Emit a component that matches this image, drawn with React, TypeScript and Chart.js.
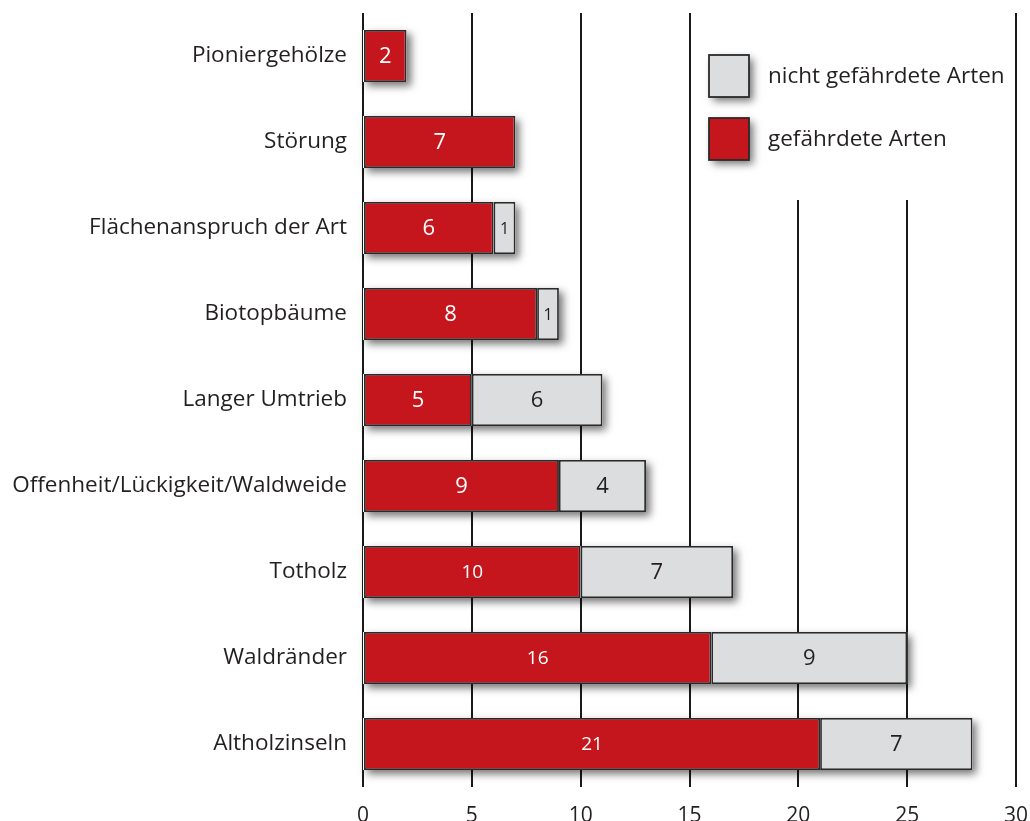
import React, { useEffect, useRef } from "react";
import { Chart, registerables } from "chart.js";

Chart.register(...registerables);

const categories = [
  "Pioniergehölze",
  "Störung",
  "Flächenanspruch der Art",
  "Biotopbäume",
  "Langer Umtrieb",
  "Offenheit/Lückigkeit/Waldweide",
  "Totholz",
  "Waldränder",
  "Altholzinseln",
];
const endangered = [2, 7, 6, 8, 5, 9, 10, 16, 21];
const notEndangered = [0, 0, 1, 1, 6, 4, 7, 9, 7];
const xTicks = [0, 5, 10, 15, 20, 25, 30];
const legendLabels = ["nicht gefährdete Arten", "gefährdete Arten"];

const RED = "#C4161C";
const GRAY = "#DCDDDF";
const BORDER = "#2a2a2a";
const TEXT = "#231f20";
const FONT = "'Open Sans', sans-serif";

const shadowPlugin = {
  id: "shadowAndLegend",
  beforeDatasetsDraw(chart: any) {
    const ctx = chart.ctx;
    const xs = chart.scales.x;
    // white legend background hiding grid lines
    ctx.save();
    ctx.fillStyle = "#ffffff";
    ctx.fillRect(xs.getPixelForValue(15) + 4, 0, xs.getPixelForValue(30) - xs.getPixelForValue(15) - 8, 200);
    ctx.restore();
    const meta0 = chart.getDatasetMeta(0);
    ctx.save();
    ctx.shadowColor = "rgba(0,0,0,0.55)";
    ctx.shadowBlur = 8;
    ctx.shadowOffsetX = 4;
    ctx.shadowOffsetY = 4;
    ctx.fillStyle = "#ffffff";
    meta0.data.forEach((bar: any, i: number) => {
      const total = endangered[i] + notEndangered[i];
      const x0 = xs.getPixelForValue(0);
      const x1 = xs.getPixelForValue(total);
      const h = bar.height;
      ctx.fillRect(x0, bar.y - h / 2, x1 - x0, h);
    });
    ctx.restore();
  },
  afterDatasetsDraw(chart: any) {
    const ctx = chart.ctx;
    ctx.save();
    ctx.textAlign = "center";
    ctx.textBaseline = "middle";
    [0, 1].forEach((di) => {
      const meta = chart.getDatasetMeta(di);
      const vals = di === 0 ? endangered : notEndangered;
      meta.data.forEach((bar: any, i: number) => {
        const v = vals[i];
        if (!v) return;
        const w = Math.abs(bar.x - bar.base);
        let size = 22;
        if (w < 30) size = 16;
        else if (v >= 10) size = 19;
        ctx.font = `${size}px ${FONT}`;
        ctx.fillStyle = di === 0 ? "#ffffff" : TEXT;
        ctx.fillText(String(v), (bar.x + bar.base) / 2, bar.y + 1);
      });
    });
    ctx.restore();

    // legend
    const items = [
      { label: legendLabels[0], color: GRAY, y: 55 },
      { label: legendLabels[1], color: RED, y: 118 },
    ];
    ctx.save();
    items.forEach((it) => {
      ctx.save();
      ctx.shadowColor = "rgba(0,0,0,0.55)";
      ctx.shadowBlur = 8;
      ctx.shadowOffsetX = 4;
      ctx.shadowOffsetY = 4;
      ctx.fillStyle = it.color;
      ctx.fillRect(709, it.y, 40, 42);
      ctx.restore();
      ctx.strokeStyle = BORDER;
      ctx.lineWidth = 1.8;
      ctx.strokeRect(709, it.y, 40, 42);
      ctx.fillStyle = TEXT;
      ctx.font = `22.5px ${FONT}`;
      ctx.textAlign = "left";
      ctx.textBaseline = "middle";
      ctx.fillText(it.label, 768, it.y + 22);
    });
    ctx.restore();
  },
};

export default function App() {
  const ref = useRef<HTMLCanvasElement>(null);
  useEffect(() => {
    document.body.style.margin = "0";
    const chart = new Chart(ref.current!, {
      type: "bar",
      data: {
        labels: categories,
        datasets: [
          {
            label: legendLabels[1],
            data: endangered,
            backgroundColor: RED,
            borderColor: BORDER,
            borderWidth: 1.8,
            borderSkipped: false,
            categoryPercentage: 1,
            barPercentage: 0.605,
          },
          {
            label: legendLabels[0],
            data: notEndangered,
            backgroundColor: GRAY,
            borderColor: BORDER,
            borderWidth: 1.8,
            borderSkipped: false,
            categoryPercentage: 1,
            barPercentage: 0.605,
          },
        ],
      },
      options: {
        indexAxis: "y",
        animation: false,
        responsive: false,
        layout: { padding: { top: 13, right: 14, left: 0, bottom: 0 } },
        plugins: { legend: { display: false }, tooltip: { enabled: false } },
        scales: {
          x: {
            stacked: true,
            min: 0,
            max: 30,
            afterBuildTicks: (s: any) => {
              s.ticks = xTicks.map((v) => ({ value: v }));
            },
            afterFit: (s: any) => {
              s.height = 34;
              s.paddingLeft = 0;
              s.paddingRight = 0;
            },
            grid: { color: "#1a1a1a", lineWidth: 2, drawTicks: false },
            border: { display: false },
            ticks: {
              color: TEXT,
              font: { family: FONT, size: 21 },
              padding: 16,
              maxRotation: 0,
            },
          },
          y: {
            stacked: true,
            afterFit: (s: any) => {
              s.width = 363;
              s.paddingTop = 0;
              s.paddingBottom = 0;
            },
            grid: { display: false, drawTicks: false },
            border: { display: false },
            ticks: {
              color: TEXT,
              font: { family: FONT, size: 22.5 },
              padding: 16,
            },
          },
        },
      },
      plugins: [shadowPlugin],
    });
    return () => chart.destroy();
  }, []);
  return (
    <div style={{ position: "relative", width: 1030, height: 821 }}>
      <canvas ref={ref} width={1030} height={821} style={{ display: "block" }} />
    </div>
  );
}
